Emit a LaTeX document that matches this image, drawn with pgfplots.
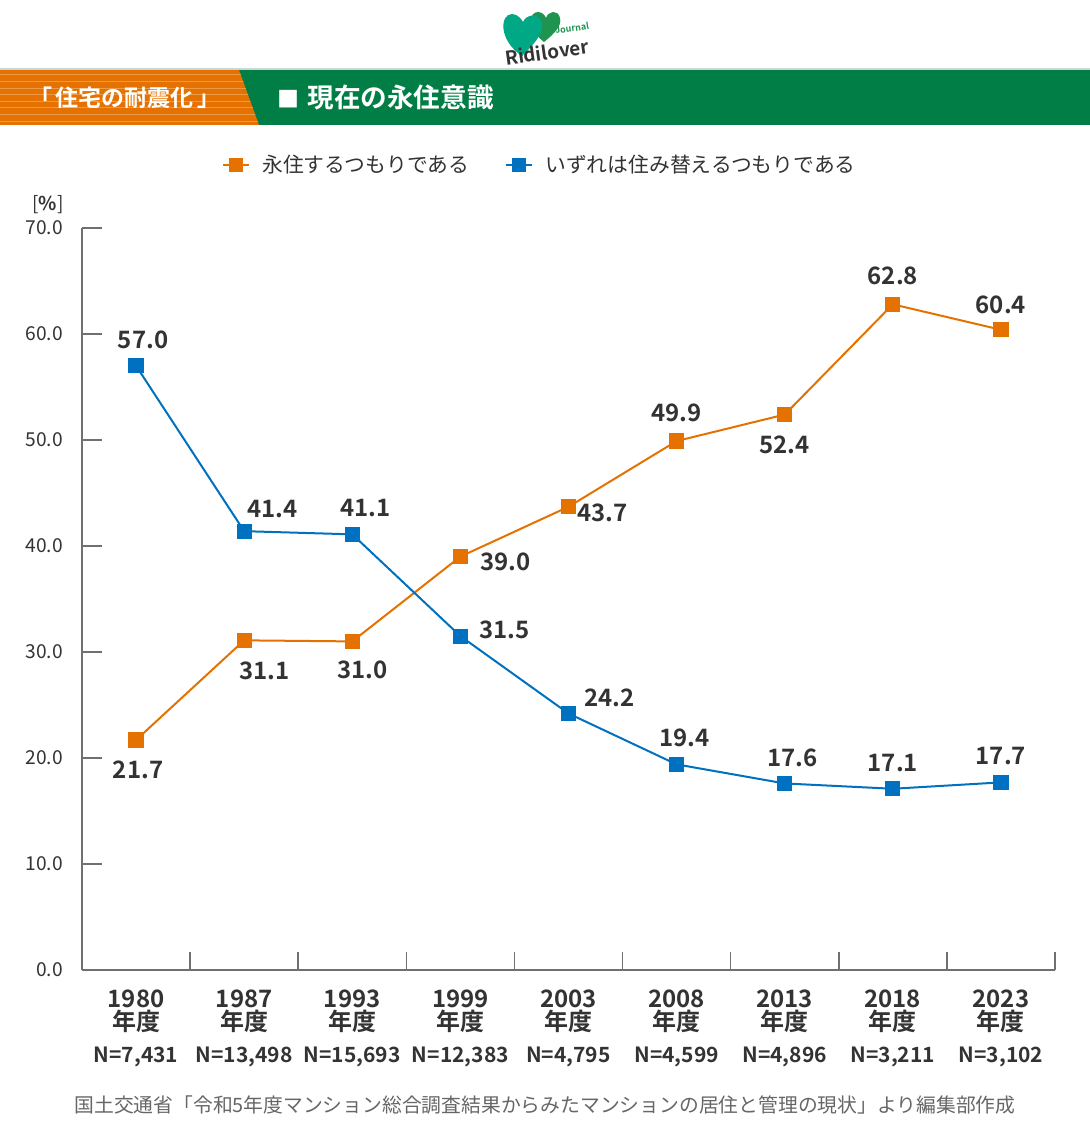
\documentclass[border=0pt]{standalone}
\usepackage{fontspec}
\setmainfont{Noto Sans CJK JP}[BoldFont={Noto Sans CJK JP Bold}]
\usepackage{pgfplots}
\usepackage{pgfplotstable}
\pgfplotsset{compat=1.18}
\definecolor{cOr}{HTML}{E57200}
\definecolor{cOrL}{HTML}{EE9A45}
\definecolor{cBl}{HTML}{0070C0}
\definecolor{cGr}{HTML}{007E45}
\definecolor{cTxt}{HTML}{333333}
\definecolor{cAx}{HTML}{707070}
\definecolor{cSrc}{HTML}{666666}
\definecolor{cTeal}{HTML}{00A886}
\definecolor{cLeaf}{HTML}{1E9450}
\definecolor{cLine}{HTML}{C8D8D4}

\pgfplotstableread{
x perm move
0 21.7 57.0
1 31.1 41.4
2 31.0 41.1
3 39.0 31.5
4 43.7 24.2
5 49.9 19.4
6 52.4 17.6
7 62.8 17.1
8 60.4 17.7
}\data

\tikzset{lbl/.style={font=\bfseries\fontsize{12}{12}\selectfont, text=cTxt, inner sep=0pt}}

\begin{document}
\begin{tikzpicture}
\path[use as bounding box] (0,0) rectangle (545pt,-572.5pt);
% header band
\fill[cLine] (0,-34pt) rectangle (545pt,-35pt);
\fill[cGr] (0,-35pt) rectangle (545pt,-62.5pt);
\begin{scope}
\clip (0,-35pt) -- (119.5pt,-35pt) -- (129.5pt,-62.5pt) -- (0,-62.5pt) -- cycle;
\fill[cOr] (0,-35pt) rectangle (140pt,-62.5pt);
\foreach \yy in {37.5,40.8,...,62}{\draw[cOrL, line width=0.5pt] (0,-\yy pt) -- (140pt,-\yy pt);}
\end{scope}
\node[white, font=\bfseries\fontsize{11.5}{12}\selectfont] at (62.5pt,-48.8pt) {「\,住宅の耐震化\,」};
\node[white, font=\bfseries\fontsize{13.3}{14}\selectfont, anchor=west, inner sep=0pt] at (138.5pt,-48.8pt) {{\fontsize{11}{12}\selectfont ■}\hspace{4pt}現在の永住意識};
% logo
\fill[cLeaf] (272pt,-21pt) .. controls (264pt,-15pt) and (264pt,-6pt) .. (269pt,-6pt) .. controls (272pt,-6pt) and (273pt,-9pt) .. (273pt,-9pt) .. controls (274pt,-5.5pt) and (279pt,-4.5pt) .. (280pt,-9pt) .. controls (281pt,-13pt) and (277pt,-17pt) .. (272pt,-21pt) -- cycle;
\fill[cTeal] (261pt,-28pt) .. controls (249pt,-20pt) and (250pt,-7pt) .. (256pt,-7pt) .. controls (259pt,-7pt) and (261pt,-10pt) .. (261.5pt,-11pt) .. controls (263pt,-7pt) and (270pt,-6pt) .. (271pt,-12pt) .. controls (272pt,-17pt) and (266pt,-23pt) .. (261pt,-28pt) -- cycle;
\node[rotate=8, text=cTxt, font=\bfseries\fontsize{9.5}{10}\selectfont, inner sep=0pt] at (273.5pt,-26pt) {Ridilover};
\node[rotate=8, text=cLeaf, font=\bfseries\fontsize{4.5}{5}\selectfont, inner sep=0pt] at (286pt,-14pt) {Journal};
% unit
\node[text=cTxt, font=\fontsize{9.5}{10}\selectfont] at (24pt,-102.5pt) {[\textbf{\%}]};
% source
\node[text=cSrc, font=\fontsize{9.9}{10}\selectfont] at (272.5pt,-552.5pt) {国土交通省「令和5年度マンション総合調査結果からみたマンションの居住と管理の現状」より編集部作成};

\begin{axis}[
  at={(41pt,-485pt)}, anchor=south west,
  scale only axis, width=486.5pt, height=371pt,
  xmin=-0.5, xmax=8.5, ymin=0, ymax=70,
  clip=false,
  axis x line*=bottom, axis y line*=left,
  axis line style={draw=cAx, line width=0.8pt, -},
  tick align=inside,
  xtick={0,...,8},
  major x tick style={draw=none},
  minor xtick={0.5,1.5,...,8.5},
  minor x tick style={draw=cAx, line width=0.8pt},
  minor tick length=9pt,
  major tick length=10pt,
  ytick={0,10,...,70},
  y tick style={draw=cAx, line width=0.8pt},
  yticklabel={\pgfmathprintnumber[fixed,fixed zerofill,precision=1,assume math mode=true]{\tick}},
  yticklabel style={font=\fontsize{9.6}{10}\selectfont, text=cTxt, xshift=-6pt},
  xticklabels={
    {1980\\年度\\[4.5pt]{\fontsize{10.5}{11}\selectfont N=7,431}},
    {1987\\年度\\[4.5pt]{\fontsize{10.5}{11}\selectfont N=13,498}},
    {1993\\年度\\[4.5pt]{\fontsize{10.5}{11}\selectfont N=15,693}},
    {1999\\年度\\[4.5pt]{\fontsize{10.5}{11}\selectfont N=12,383}},
    {2003\\年度\\[4.5pt]{\fontsize{10.5}{11}\selectfont N=4,795}},
    {2008\\年度\\[4.5pt]{\fontsize{10.5}{11}\selectfont N=4,599}},
    {2013\\年度\\[4.5pt]{\fontsize{10.5}{11}\selectfont N=4,896}},
    {2018\\年度\\[4.5pt]{\fontsize{10.5}{11}\selectfont N=3,211}},
    {2023\\年度\\[4.5pt]{\fontsize{10.5}{11}\selectfont N=3,102}}},
  xticklabel style={align=center, font=\bfseries\fontsize{12}{11.5}\selectfont, text=cTxt, anchor=north, yshift=-6.5pt},
  legend columns=2,
  legend style={at={(0.4717,1.0849)}, anchor=center, draw=none, fill=none,
    font=\fontsize{10.4}{10.4}\selectfont, text=cTxt,
    /tikz/every even column/.append style={column sep=16pt}},
  legend image code/.code={\draw[#1, mark=none] (0pt,0pt) -- (13pt,0pt); \draw[#1, only marks, mark size=3pt] plot coordinates {(6.5pt,0pt)};},
]
\addplot[cOr, line width=1pt, mark=square*, mark size=3.3pt, mark options={solid}] table[x=x,y=perm]{\data};
\addlegendentry{\hspace{4pt}永住するつもりである}
\addplot[cBl, line width=1pt, mark=square*, mark size=3.3pt, mark options={solid}] table[x=x,y=move]{\data};
\addlegendentry{\hspace{4pt}いずれは住み替えるつもりである}

\node[lbl, xshift=1pt, yshift=-15pt] at (axis cs:0,21.7) {21.7};
\node[lbl, xshift=10pt, yshift=-15pt] at (axis cs:1,31.1) {31.1};
\node[lbl, xshift=5pt, yshift=-14pt] at (axis cs:2,31.0) {31.0};
\node[lbl, xshift=22.5pt, yshift=-2.5pt] at (axis cs:3,39.0) {39.0};
\node[lbl, xshift=17pt, yshift=-3pt] at (axis cs:4,43.7) {43.7};
\node[lbl, xshift=0pt, yshift=14pt] at (axis cs:5,49.9) {49.9};
\node[lbl, xshift=0pt, yshift=-15pt] at (axis cs:6,52.4) {52.4};
\node[lbl, xshift=0pt, yshift=14pt] at (axis cs:7,62.8) {62.8};
\node[lbl, xshift=0pt, yshift=12.5pt] at (axis cs:8,60.4) {60.4};

\node[lbl, xshift=3.5pt, yshift=13pt] at (axis cs:0,57.0) {57.0};
\node[lbl, xshift=14pt, yshift=11pt] at (axis cs:1,41.4) {41.4};
\node[lbl, xshift=6.5pt, yshift=13pt] at (axis cs:2,41.1) {41.1};
\node[lbl, xshift=22pt, yshift=3pt] at (axis cs:3,31.5) {31.5};
\node[lbl, xshift=20.5pt, yshift=8pt] at (axis cs:4,24.2) {24.2};
\node[lbl, xshift=4pt, yshift=13.5pt] at (axis cs:5,19.4) {19.4};
\node[lbl, xshift=4pt, yshift=13pt] at (axis cs:6,17.6) {17.6};
\node[lbl, xshift=0pt, yshift=13pt] at (axis cs:7,17.1) {17.1};
\node[lbl, xshift=0pt, yshift=13pt] at (axis cs:8,17.7) {17.7};
\end{axis}
\end{tikzpicture}
\end{document}
